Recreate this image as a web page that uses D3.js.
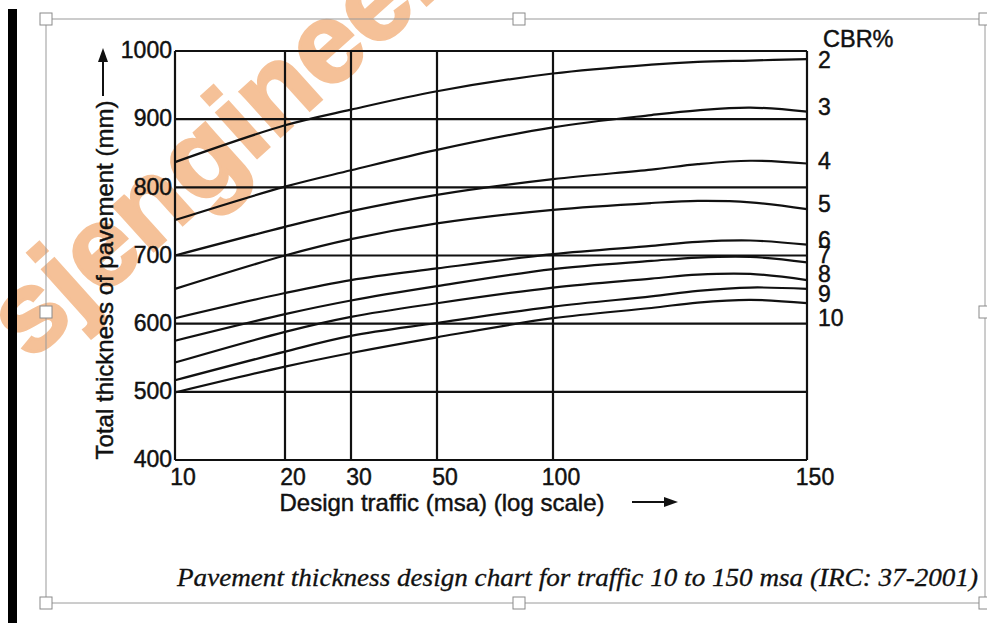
<!DOCTYPE html>
<html>
<head>
<meta charset="utf-8">
<script src="https://cdn.jsdelivr.net/npm/d3@7"></script>
<style>
  body { margin: 0; background: #fff; }
  svg { display: block; }
  .lbl { fill: #111; stroke: #111; stroke-width: 0.45px; }
</style>
</head>
<body>
<svg id="chart"></svg>
<script>
const traffic = [10, 20, 30, 50, 100, 117, 126, 137, 150];

// total pavement thickness (mm) per CBR curve
const cbr2  = [837, 891, 914, 941, 967, 980, 984, 986, 988];
const cbr3  = [752, 801, 825, 855, 888, 906, 913, 917, 911];
const cbr4  = [700, 742, 765, 789, 812, 826, 834, 839, 835];
const cbr5  = [651, 700, 724, 747, 767, 777, 780, 778, 768];
const cbr6  = [608, 645, 664, 681, 702, 714, 720, 722, 716];
const cbr7  = [575, 614, 634, 655, 680, 692, 697, 698, 690];
const cbr8  = [543, 588, 610, 630, 653, 666, 672, 673, 664];
const cbr9  = [517, 559, 582, 601, 625, 640, 648, 653, 651];
const cbr10 = [499, 537, 557, 580, 608, 623, 631, 635, 630];

const cbrNames = ["2", "3", "4", "5", "6", "7", "8", "9", "10"];
const xTicks = [10, 20, 30, 50, 100, 150];
const yTicks = [400, 500, 600, 700, 800, 900, 1000];

const series = [cbr2, cbr3, cbr4, cbr5, cbr6, cbr7, cbr8, cbr9, cbr10]
  .map((vals, i) => ({
    name: cbrNames[i],
    points: vals.map((v, j) => ({ t: traffic[j], v: v }))
  }));

const width = 987, height = 623;
const margin = { left: 175, top: 51 };
const plotW = 632, plotH = 409;
// the printed "log" axis is not uniform, so the scale is piecewise log
const xStops = [0, 110, 176, 262, 378, 632];
// small nudges so the curve labels do not collide
const labelNudge = [1, -5, -2.5, -5.5, -5, -7.5, -6, 4.5, 14.5];

const svg = d3.select("#chart")
  .attr("width", width)
  .attr("height", height)
  .style("font-family", "'Liberation Sans', Arial, sans-serif");

// watermark
svg.append("text")
  .attr("transform", "translate(30,362) rotate(-42)")
  .attr("font-size", 114)
  .attr("font-weight", "bold")
  .attr("fill", "#f0a263")
  .attr("stroke", "#f0a263")
  .attr("stroke-width", 3)
  .attr("opacity", 0.66)
  .text("sjengineers");

// left black bar and selection frame
svg.append("rect").attr("x", 8).attr("y", 9).attr("width", 9).attr("height", height - 9).attr("fill", "#000");
svg.append("rect")
  .attr("x", 46).attr("y", 19).attr("width", 939).attr("height", 584)
  .attr("fill", "none").attr("stroke", "#9a9a9a").attr("stroke-width", 1);
const handles = [[46, 19], [519, 19], [985, 19], [46, 312], [985, 312], [46, 603], [519, 603], [985, 603]];
svg.selectAll(".handle")
  .data(handles)
  .enter()
  .append("rect")
  .attr("class", "handle")
  .attr("x", d => d[0] - 6)
  .attr("y", d => d[1] - 6)
  .attr("width", 12)
  .attr("height", 12)
  .attr("fill", "#fff")
  .attr("stroke", "#8a8a8a");

const x = d3.scaleLog()
  .domain(xTicks)
  .range(xStops.map(s => margin.left + s));

const y = d3.scaleLinear()
  .domain([400, 1000])
  .range([margin.top + plotH, margin.top]);

const chart = svg.append("g");

// grid
chart.append("g")
  .selectAll("line")
  .data(yTicks)
  .enter()
  .append("line")
  .attr("x1", x(10)).attr("x2", x(150))
  .attr("y1", d => y(d)).attr("y2", d => y(d))
  .attr("stroke", "#111").attr("stroke-width", 2.2);

chart.append("g")
  .selectAll("line")
  .data(xTicks)
  .enter()
  .append("line")
  .attr("x1", d => x(d)).attr("x2", d => x(d))
  .attr("y1", y(400)).attr("y2", y(1000))
  .attr("stroke", "#111").attr("stroke-width", 2.2);

// curves
const line = d3.line()
  .x(d => x(d.t))
  .y(d => y(d.v))
  .curve(d3.curveCatmullRom.alpha(0.5));

chart.append("g")
  .selectAll("path")
  .data(series)
  .enter()
  .append("path")
  .attr("d", d => line(d.points))
  .attr("fill", "none")
  .attr("stroke", "#111")
  .attr("stroke-width", 2.2);

// curve labels
chart.append("g")
  .selectAll("text")
  .data(series)
  .enter()
  .append("text")
  .attr("class", "lbl")
  .attr("x", x(150) + 11)
  .attr("y", (d, i) => y(d.points[d.points.length - 1].v) + labelNudge[i])
  .attr("dy", "0.36em")
  .attr("font-size", 23)
  .text(d => d.name);

svg.append("text")
  .attr("class", "lbl")
  .attr("x", 823).attr("y", 47)
  .attr("font-size", 23.5)
  .text("CBR%");

// y tick labels
svg.append("g")
  .selectAll("text")
  .data(yTicks)
  .enter()
  .append("text")
  .attr("class", "lbl")
  .attr("x", margin.left - 3)
  .attr("y", d => y(d) - 1)
  .attr("dy", "0.36em")
  .attr("text-anchor", "end")
  .attr("font-size", 23)
  .text(d => d);

// x tick labels
svg.append("g")
  .selectAll("text")
  .data(xTicks)
  .enter()
  .append("text")
  .attr("class", "lbl")
  .attr("x", d => x(d) + 8)
  .attr("y", 485)
  .attr("text-anchor", "middle")
  .attr("font-size", 23)
  .text(d => d);

// axis titles with arrows
svg.append("text")
  .attr("class", "lbl")
  .attr("x", 442).attr("y", 511)
  .attr("text-anchor", "middle")
  .attr("font-size", 24)
  .text("Design traffic (msa) (log scale)");

svg.append("line")
  .attr("x1", 632).attr("x2", 668).attr("y1", 502).attr("y2", 502)
  .attr("stroke", "#111").attr("stroke-width", 2);
svg.append("path")
  .attr("d", "M678,502 L664,497 L664,507 Z")
  .attr("fill", "#111");

svg.append("text")
  .attr("class", "lbl")
  .attr("transform", "translate(113,280) rotate(-90)")
  .attr("text-anchor", "middle")
  .attr("font-size", 24)
  .text("Total thickness of pavement (mm)");

svg.append("line")
  .attr("x1", 103).attr("x2", 103).attr("y1", 96).attr("y2", 60)
  .attr("stroke", "#111").attr("stroke-width", 2);
svg.append("path")
  .attr("d", "M103,48 L98,62 L108,62 Z")
  .attr("fill", "#111");

// caption
svg.append("text")
  .attr("x", 177).attr("y", 586)
  .attr("font-family", "'Liberation Serif', 'DejaVu Serif', serif")
  .attr("font-style", "italic")
  .attr("font-size", 26)
  .attr("textLength", 801)
  .attr("lengthAdjust", "spacingAndGlyphs")
  .attr("fill", "#111")
  .attr("stroke", "#111")
  .attr("stroke-width", 0.3)
  .text("Pavement thickness design chart for traffic 10 to 150 msa (IRC: 37-2001)");
</script>
</body>
</html>
